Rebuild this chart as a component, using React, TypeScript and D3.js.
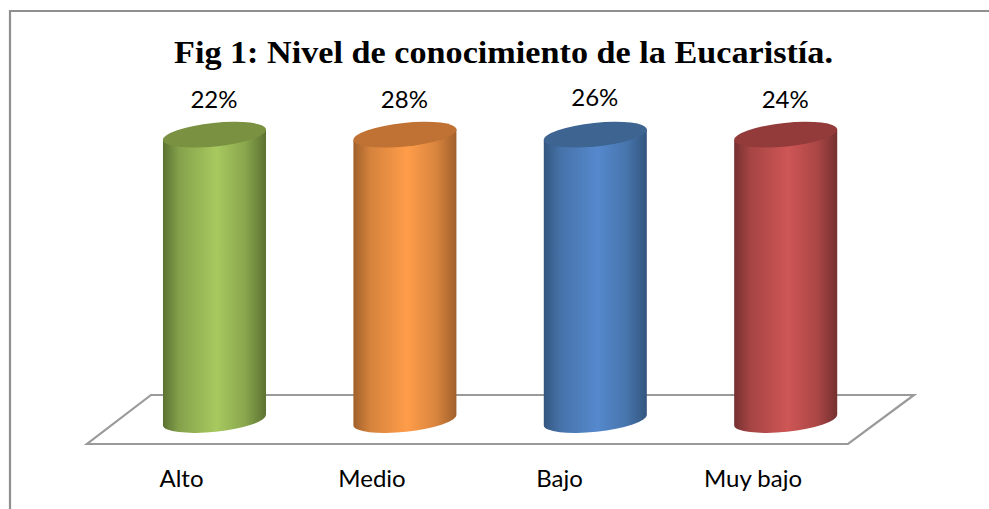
import React from "react";
import * as d3 from "d3";

const title = "Fig 1: Nivel de conocimiento de la Eucaristía.";
const categories = ["Alto", "Medio", "Bajo", "Muy bajo"];
const values = [22, 28, 26, 24];
const valueLabels = ["22%", "28%", "26%", "24%"];
const labelLift = [0, 0, 2, 0];
const categoryNudge = [0, 0, -3, 0];
const edgeColors = ["#5c7232", "#a0602b", "#33567e", "#763030"];
const midColors = ["#a7c95f", "#ff9d4a", "#5589cd", "#ce5655"];
const topColors = ["#7a9141", "#bf7233", "#3e6492", "#933b3a"];

const W = 989;
const H = 509;

const App = () => {
  const x = d3.scalePoint<string>().domain(categories).range([214.5, 785.7]);
  const xLabel = d3.scalePoint<string>().domain(categories).range([181.5, 753]);
  // The value axis of the original stops below the smallest value, so all cylinders reach its top.
  const y = d3.scaleLinear().domain([0, 20]).range([420, 134.7]).clamp(true);
  const rx = 51.8;
  const ry = 11.8;
  const tilt = -6;
  const rad = (tilt * Math.PI) / 180;
  const dx = rx * Math.cos(rad);
  const dy = rx * Math.sin(rad);

  const floor = d3.line()([
    [151, 395],
    [914, 395],
    [848, 444],
    [87, 444],
  ]) + "Z";
  const frame = d3.line()([
    [10, H],
    [10, 11],
    [W, 11],
  ]) as string;

  return (
    <svg
      width={W}
      height={H}
      viewBox={`0 0 ${W} ${H}`}
      style={{ position: "absolute", left: 0, top: 0, background: "#fff" }}
    >
      <defs>
        {categories.map((c, i) => (
          <linearGradient key={c} id={`g${i}`} x1="0" x2="1" y1="0" y2="0">
            <stop offset="0" stopColor={edgeColors[i]} />
            <stop offset="0.16" stopColor={d3.interpolateRgb(edgeColors[i], midColors[i])(0.55)} />
            <stop offset="0.52" stopColor={midColors[i]} />
            <stop offset="0.8" stopColor={d3.interpolateRgb(edgeColors[i], midColors[i])(0.6)} />
            <stop offset="1" stopColor={edgeColors[i]} />
          </linearGradient>
        ))}
      </defs>
      <path d={frame} fill="none" stroke="#8f8f8f" strokeWidth={2.2} />
      <path d={floor} fill="#fff" stroke="#9a9a9a" strokeWidth={2.2} />
      <text
        x={503.5}
        y={63}
        textAnchor="middle"
        fontFamily="'Liberation Serif', serif"
        fontWeight="bold"
        fontSize={31}
        textLength={659}
        lengthAdjust="spacingAndGlyphs"
        fill="#000"
      >
        {title}
      </text>
      {categories.map((c, i) => {
        const cx = x(c) as number;
        const y0 = y(0);
        const y1 = y(values[i]);
        const body = `M${cx - dx},${y1 - dy}L${cx - dx},${y0 - dy}A${rx},${ry} ${tilt} 0 0 ${cx + dx},${y0 + dy}L${cx + dx},${y1 + dy}Z`;
        return (
          <g key={c}>
            <path d={body} fill={`url(#g${i})`} />
            <ellipse
              cx={cx}
              cy={y1}
              rx={rx}
              ry={ry}
              fill={topColors[i]}
              transform={`rotate(${tilt} ${cx} ${y1})`}
            />
            <text
              x={cx - 0.5}
              y={108 - labelLift[i]}
              textAnchor="middle"
              fontFamily="Lato, sans-serif"
              fontSize={24}
              fill="#000"
            >
              {valueLabels[i]}
            </text>
            <text
              x={(xLabel(c) as number) + categoryNudge[i]}
              y={487}
              textAnchor="middle"
              fontFamily="Lato, sans-serif"
              fontSize={24}
              fill="#000"
            >
              {c}
            </text>
          </g>
        );
      })}
    </svg>
  );
};

export default App;
